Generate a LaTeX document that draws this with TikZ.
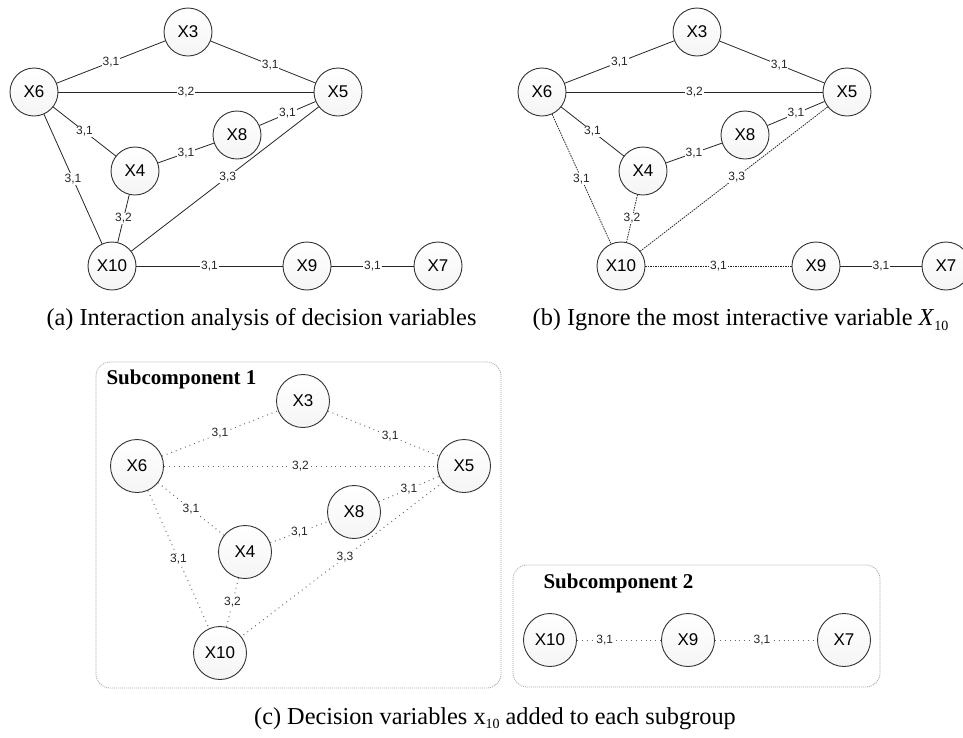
\documentclass[tikz,border=0pt]{standalone}
\usepackage{fontspec}
\setmainfont{Liberation Serif}
\newfontfamily\nodefont{Liberation Sans}
\begin{document}
\begin{tikzpicture}[x=1pt,y=-1pt,
  vnode/.style={circle, draw=black!80, line width=0.9pt, minimum size=48pt, inner sep=0pt,
    top color=white, bottom color=blue!3!black!4, text=black, font=\nodefont\fontsize{17}{17}\selectfont},
  bnode/.style={vnode, minimum size=53pt},
  lab/.style={fill=white, inner sep=0.8pt, text=black!85, font=\nodefont\fontsize{12}{12}\selectfont},
  edge/.style={line width=0.8pt, black!85},
  dedge/.style={line width=0.8pt, black!85, dash pattern=on 1.5pt off 1pt},
  oedge/.style={line width=1pt, black!60, dash pattern=on 0.9pt off 4pt},
  box/.style={draw=black!35, line width=0.8pt, dash pattern=on 1pt off 1pt, rounded corners=14pt},
  captxt/.style={font=\fontsize{24.3}{24.3}\selectfont, anchor=base},
  subttl/.style={font=\bfseries\fontsize{21}{21}\selectfont, anchor=west}
]
\clip (0,0) rectangle (963,737);
\fill[white] (0,0) rectangle (963,737);

% ---------- panel (a) ----------
\node[vnode] (a3) at (188,32) {X3};
\node[vnode] (a6) at (34,92) {X6};
\node[vnode] (a5) at (338,92) {X5};
\node[vnode] (a8) at (237,135) {X8};
\node[vnode] (a4) at (135,171) {X4};
\node[vnode] (a10) at (112,266) {X10};
\node[vnode] (a9) at (307,266) {X9};
\node[vnode] (a7) at (438,266) {X7};
\draw[edge] (a6) -- node[lab]{3,1} (a3);
\draw[edge] (a3) -- node[lab,pos=0.57]{3,1} (a5);
\draw[edge] (a6) -- node[lab]{3,2} (a5);
\draw[edge] (a6) -- node[lab]{3,1} (a4);
\draw[edge] (a8) -- node[lab]{3,1} (a5);
\draw[edge] (a4) -- node[lab]{3,1} (a8);
\draw[edge] (a6) -- node[lab]{3,1} (a10);
\draw[edge] (a5) -- node[lab,pos=0.485]{3,3} (a10);
\draw[edge] (a4) -- node[lab]{3,2} (a10);
\draw[edge] (a10) -- node[lab]{3,1} (a9);
\draw[edge] (a9) -- node[lab]{3,1} (a7);

% ---------- panel (b) ----------
\node[vnode] (b3) at (697,32) {X3};
\node[vnode] (b6) at (542,92) {X6};
\node[vnode] (b5) at (847,92) {X5};
\node[vnode] (b8) at (745,135) {X8};
\node[vnode] (b4) at (643,171) {X4};
\node[vnode] (b10) at (621,266) {X10};
\node[vnode] (b9) at (816,266) {X9};
\node[vnode] (b7) at (946,266) {X7};
\draw[edge] (b6) -- node[lab]{3,1} (b3);
\draw[edge] (b3) -- node[lab,pos=0.57]{3,1} (b5);
\draw[edge] (b6) -- node[lab]{3,2} (b5);
\draw[edge] (b6) -- node[lab]{3,1} (b4);
\draw[edge] (b8) -- node[lab]{3,1} (b5);
\draw[edge] (b4) -- node[lab]{3,1} (b8);
\draw[dedge] (b6) -- node[lab]{3,1} (b10);
\draw[dedge] (b5) -- node[lab,pos=0.485]{3,3} (b10);
\draw[dedge] (b4) -- node[lab]{3,2} (b10);
\draw[dedge] (b10) -- node[lab]{3,1} (b9);
\draw[edge] (b9) -- node[lab]{3,1} (b7);

% ---------- captions (a), (b) ----------
\node[captxt] (capa) at (261.5,325) {(a) Interaction analysis of decision variables};
\node[captxt] (capb) at (740.5,325) {(b) Ignore the most interactive variable \textit{X}\raisebox{-0.45ex}{\fontsize{14}{14}\selectfont 10}};

% ---------- panel (c), subcomponent 1 ----------
\draw[box] (96,362) rectangle (501,688);
\node[subttl] (s1) at (103,379) {Subcomponent 1};
\node[bnode] (c3) at (303,401) {X3};
\node[bnode] (c6) at (137,466) {X6};
\node[bnode] (c5) at (464,466) {X5};
\node[bnode] (c8) at (354,512) {X8};
\node[bnode] (c4) at (245,552) {X4};
\node[bnode] (c10) at (220,653) {X10};
\draw[oedge] (c6) -- node[lab]{3,1} (c3);
\draw[oedge] (c3) -- node[lab,pos=0.56]{3,1} (c5);
\draw[oedge] (c6) -- node[lab]{3,2} (c5);
\draw[oedge] (c6) -- node[lab]{3,1} (c4);
\draw[oedge] (c8) -- node[lab]{3,1} (c5);
\draw[oedge] (c4) -- node[lab]{3,1} (c8);
\draw[oedge] (c6) -- node[lab]{3,1} (c10);
\draw[oedge] (c5) -- node[lab,pos=0.485]{3,3} (c10);
\draw[oedge] (c4) -- node[lab]{3,2} (c10);

% ---------- panel (c), subcomponent 2 ----------
\draw[box] (513,565) rectangle (880,687);
\node[subttl] (s2) at (540,583) {Subcomponent 2};
\node[bnode] (d10) at (550,640) {X10};
\node[bnode] (d9) at (688,640) {X9};
\node[bnode] (d7) at (844,640) {X7};
\draw[oedge] (d10) -- node[lab,pos=0.33]{3,1} (d9);
\draw[oedge] (d9) -- node[lab,pos=0.46]{3,1} (d7);

\node[captxt] (capc) at (495,724) {(c) Decision variables x\raisebox{-0.4ex}{\fontsize{14}{14}\selectfont 10} added to each subgroup};
\end{tikzpicture}
\end{document}
